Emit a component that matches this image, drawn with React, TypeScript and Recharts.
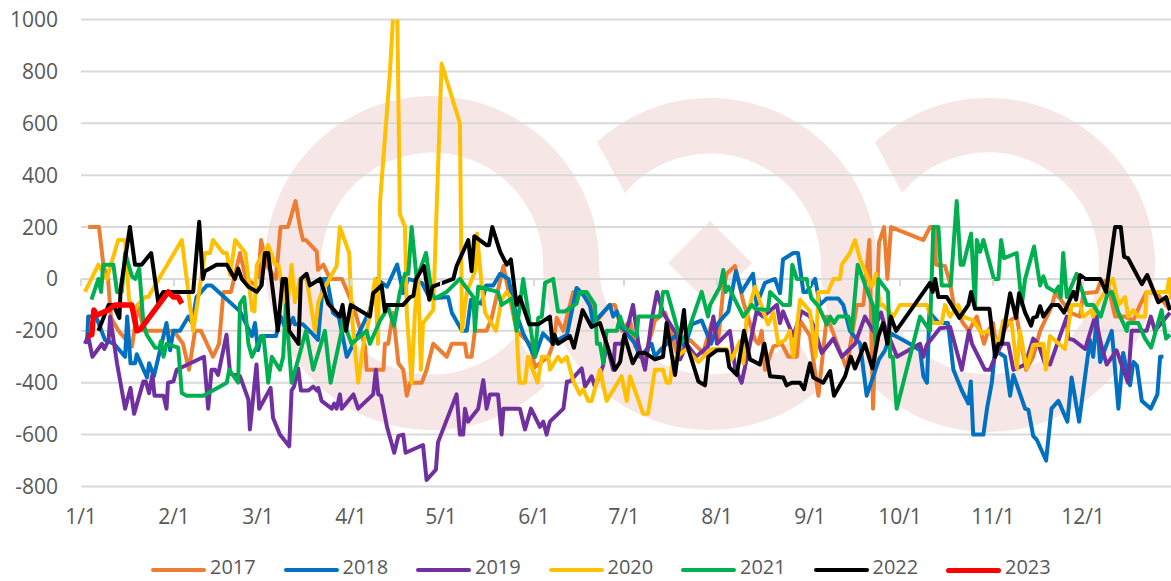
import React from "react";
import {
  LineChart,
  Line,
  XAxis,
  YAxis,
  CartesianGrid,
  Legend,
} from "recharts";

// day of year (0 = Jan 1) and value pairs
const s2017 = [[2.4,200],[6,200],[7.5,50],[9,0],[10,-150],[12.5,-200],[17,-260],[19,-100],[21,-200],[27,-200],[31,-200],[34,-250],[36,-350],[38,-200],[40,-200],[44,-300],[46,-250],[47.5,-50],[50,-50],[53,100],[55,0],[59,-30],[60,150],[62,50],[65,0],[66.5,200],[69,200],[71.5,300],[73,200],[74,150],[75,150],[78.6,105],[79,35],[80.8,55],[83,0],[87,0],[89,-55],[90.8,-105],[94.7,-260],[95.2,-350],[100.8,-350],[101.3,-250],[102.4,-250],[104,-130],[105.8,-325],[107.4,-350],[108.6,-450],[109.7,-400],[113.6,-400],[115.2,-350],[117.4,-250],[121.9,-300],[123.6,-250],[128,-250],[128.6,-300],[130.2,-300],[131.3,-200],[135.2,-200],[136.9,-150],[140.8,50],[145.2,-200],[149.7,-250],[151.3,-340],[155.8,-300],[157.4,-250],[158.6,-150],[160.8,-200],[164.1,-50],[166.3,-50],[169.7,-90],[171.3,-170],[176.3,-100],[178,-100],[180.2,-200],[183,-160],[184.7,-260],[188,-300],[191.3,-160],[194.7,-130],[198.6,-285],[203,-235],[207.4,-285],[210.2,-170],[212.4,-235],[214.1,-40],[215.2,20],[218,50],[220.8,-90],[224.7,-235],[225.8,-250],[226.9,-200],[228,-350],[230.8,-260],[233.6,-250],[235.8,-300],[238.6,-300],[239.7,-160],[243,-220],[245.8,-450],[248.6,-145],[250.8,-210],[255.2,-345],[258.6,-100],[260.8,-100],[262.8,150],[264,-500],[266,140],[267.7,200],[268.8,0],[270,200],[280.8,150],[283,200],[284.7,200],[285,55],[288,50],[289.7,-15],[291,-105],[294,-170],[296,-200],[298.6,-145],[301,-250],[302.4,-200],[304,-170],[305,-250],[309.7,-160],[311.9,-145],[313.6,-260],[315,-350],[317.4,-300],[319.7,-200],[323.6,-105],[324.7,-55],[326.3,-75],[329.7,-130],[333,-145],[334.1,-55],[338.6,-50],[339.7,-15],[341.9,-5],[344.7,-145],[348,-145],[350.8,-160],[353,-100],[355.2,-50],[358.6,-55],[363,-120]];
const s2018 = [[2,-250],[2.4,-145],[5,-145],[8,-235],[11,-250],[14.7,-300],[15.4,-145],[16.5,-325],[18,-325],[18.6,-290],[22,-380],[22.7,-325],[24.3,-375],[28.5,-170],[29.7,-275],[30.8,-200],[33,-200],[35.8,-145],[37,-170],[38.5,-70],[42,-25],[43.5,-25],[53,-125],[57,-220],[58,-170],[59,-275],[60,-220],[65,-220],[66.5,-145],[68.5,-200],[70.7,-150],[71.3,-175],[74,-175],[77,-210],[79,-235],[80.8,0],[82,0],[84,-130],[86,-150],[88.6,-300],[93,-200],[96.3,-120],[98.5,0],[102,-30],[105.4,55],[107.4,-55],[109,0],[113.6,-15],[116.3,-75],[122.4,-70],[123.6,-130],[127,-200],[128.6,-200],[130,-80],[133.5,-95],[135,-25],[137.4,-25],[139.7,20],[142.5,0],[144.7,-120],[147.4,-210],[151.3,-300],[154,-210],[157.5,-250],[159.7,-230],[162,-215],[165.2,-35],[167.4,-60],[169.7,-105],[170.8,-180],[172,-155],[176.3,-100],[177.4,-145],[178.6,-125],[180.2,-185],[184.7,-250],[186.3,-300],[190.2,-250],[191.3,-300],[193,-275],[198,-220],[201.3,-260],[203.6,-175],[206.9,-160],[210,-250],[212.4,-170],[215.8,-125],[218.3,30],[220.2,-50],[224,20],[225.2,-100],[228,-15],[231.3,0],[233,-55],[234,75],[237.4,100],[239,100],[240.8,-50],[241.9,-50],[244.7,0],[246.3,-100],[248.6,-75],[252.4,-75],[254.1,-100],[256.3,-200],[259.7,-250],[261.9,-450],[266,-310],[268,-275],[270,-210],[277,-255],[279.7,-275],[280.8,-375],[282,-400],[282.8,-130],[286,-170],[289,-170],[290.8,-350],[293.6,-430],[295.8,-480],[296.6,-395],[297.4,-600],[300.8,-600],[302,-500],[303.6,-400],[304.7,-275],[308,-300],[309.7,-450],[310.8,-370],[314.7,-500],[315.8,-505],[317.4,-605],[318.6,-620],[321.7,-700],[323.5,-500],[325.8,-470],[328.8,-550],[330.2,-380],[332.7,-550],[336.3,-235],[337.4,-300],[338.6,-145],[339.7,-320],[343.6,-200],[345.8,-500],[347.4,-285],[349.7,-410],[350.8,-320],[352,-335],[353.6,-470],[356.6,-500],[358.8,-445],[359.7,-300],[360.8,-300]];
const s2019 = [[1.3,-250],[2.4,-220],[3.8,-300],[7,-250],[7.8,-270],[9.2,-235],[9.7,-145],[12,-325],[14.7,-500],[16.5,-420],[17.7,-520],[20.8,-395],[21.6,-395],[22.7,-440],[23.8,-370],[24.5,-450],[27.5,-450],[28.5,-500],[29,-400],[30.8,-395],[31.9,-350],[41,-300],[42.4,-500],[43.5,-350],[44.7,-350],[45.7,-370],[48.5,-215],[49.7,-365],[53,-375],[55.8,-465],[56.3,-580],[58.5,-330],[59.4,-500],[63.2,-420],[64,-535],[66.3,-600],[69.4,-645],[70.2,-430],[71,-415],[72.4,-345],[73.3,-430],[75.8,-430],[77.4,-415],[78.6,-430],[79.1,-420],[80.2,-470],[83.6,-500],[84.4,-480],[85.2,-500],[86.3,-445],[86.9,-500],[90.8,-445],[92.4,-500],[97.4,-445],[98.3,-350],[99.1,-445],[100,-450],[102,-570],[104.4,-670],[105.8,-605],[107.4,-600],[108.2,-670],[114,-640],[115.2,-775],[118.3,-735],[119,-630],[125.2,-445],[126.3,-600],[127.4,-600],[128,-500],[129,-550],[132.4,-500],[134.1,-390],[135.2,-500],[136.3,-445],[139,-445],[140.2,-600],[140.8,-500],[146.3,-500],[148,-580],[150,-500],[153,-570],[154.1,-550],[155.2,-600],[156.3,-550],[160.8,-500],[162,-395],[163,-395],[166.9,-345],[168,-415],[170.2,-375],[171.3,-415],[174,-335],[175.2,-250],[177.4,-350],[178,-250],[180.2,-250],[181.9,-200],[184,-100],[185.8,-250],[188,-350],[190.2,-160],[192,-50],[194,-130],[198.6,-215],[199.7,-310],[201.9,-250],[205,-300],[209,-260],[210.8,-145],[212,-250],[216.3,-200],[218,-340],[220.2,-400],[223,-250],[225.2,-125],[227.4,-145],[232,-100],[233,-170],[234,-125],[237.4,-220],[240.2,-125],[243,-145],[244.7,-200],[246.9,-285],[250.8,-230],[253.6,-300],[258,-250],[261.3,-145],[264,-200],[266.7,-130],[268,-185],[272,-300],[279.7,-250],[280.8,-300],[281.9,-255],[286.3,-190],[289.7,-185],[293.6,-350],[296,-200],[297,-250],[301.3,-350],[303,-350],[304.7,-300],[307,-250],[309.1,-250],[310.8,-350],[314.7,-330],[317.4,-230],[319.1,-250],[321.3,-325],[323,-330],[328.6,-145],[329.1,-230],[330.8,-235],[334.7,-270],[338,-145],[340.2,-260],[341.9,-330],[345.2,-275],[349,-400],[350.2,-200],[355.2,-200],[356.6,-145],[358,-200],[363,-130]];
const s2020 = [[1.3,-50],[5.8,55],[8.6,0],[12.4,150],[14.7,150],[16,-80],[17.4,-120],[21.3,-70],[22.4,-70],[25.2,-15],[33.6,150],[37.4,-200],[41.3,100],[43,100],[44,150],[47.4,100],[48.6,100],[49.7,15],[51.4,150],[54.8,100],[57,-120],[57.8,-125],[58.6,55],[62.4,130],[64.7,55],[65.8,55],[68.6,-130],[70.2,55],[71.3,-90],[73,0],[75.2,0],[78,-200],[79.1,-90],[80.2,-55],[85.2,50],[86.3,200],[89.4,100],[90.2,-130],[92.4,-400],[94,-260],[95.8,-170],[98,0],[99,-250],[99.7,300],[103,800],[104.2,1050],[105.4,1050],[106.3,250],[108,200],[108.6,-130],[110.2,-400],[111.3,-130],[112.4,0],[113.3,-350],[114,-170],[117.4,-120],[120.2,830],[126.3,600],[127,-200],[128.6,-50],[131.5,35],[132,175],[133.6,-30],[134.7,-130],[138.3,-200],[140.2,-80],[141.9,-50],[143.6,-80],[145.2,-200],[146.1,-400],[148,-400],[149,-300],[152.2,-400],[153.6,-300],[155.8,-300],[156.3,-350],[159,-300],[160.2,-320],[161.9,-300],[164,-390],[166.3,-445],[167.4,-425],[169.1,-470],[170.2,-470],[173,-350],[175.2,-470],[180.2,-375],[181.9,-470],[183,-375],[187.4,-520],[189,-520],[191.3,-350],[194,-350],[195.2,-400],[196.3,-400],[197.4,-310],[201.9,-270],[205.8,-320],[210.2,-270],[215.2,-270],[216.9,-310],[219.7,-240],[220.8,-325],[221.9,-145],[224.7,-30],[227.4,-125],[229,-175],[230.8,-130],[232.4,-250],[234.7,-235],[236.3,-200],[237.4,-300],[239.7,-80],[243,-125],[244.9,-300],[245.8,-50],[249,-50],[250.8,0],[253,0],[253.6,55],[256.3,100],[258,150],[259.7,75],[263.6,-30],[265,20],[266.2,-100],[267.4,-100],[270.8,-145],[273,-100],[281.9,-100],[284,-170],[286.9,-170],[288,-100],[289.7,-145],[292.4,-100],[294,-145],[297.4,-160],[300.2,-210],[302.4,-200],[305.8,-250],[307.4,-160],[310.2,-170],[312,-345],[313,-200],[315.2,-345],[317.4,-255],[320.8,-250],[321.6,-350],[323,-220],[328,-270],[330.2,-100],[333,-100],[334.1,-145],[336.9,-120],[337.4,-145],[338.6,-100],[344,0],[345.8,-100],[348,-70],[349.1,-145],[350.8,-120],[352.4,-145],[354.7,-145],[355.2,-50],[362,-50],[362.7,0],[363.3,-80]];
const s2021 = [[3.5,-80],[5.8,0],[6.7,-50],[7.4,55],[10.8,55],[12,-50],[13.6,-50],[14.7,100],[17,10],[18.1,0],[19.4,40],[20.8,-170],[21.9,-215],[24.7,-265],[26.2,-265],[26.6,-240],[27.5,-300],[28.5,-250],[32.4,-265],[33.6,-440],[35.2,-450],[40.8,-450],[48.6,-400],[49.4,-350],[52.4,-400],[53,-95],[54.4,-70],[55.8,-250],[57,-300],[60.2,-220],[60.8,-220],[62,-350],[62.4,-400],[63.6,-300],[66.3,-350],[67.4,-300],[68.3,-100],[70.2,-400],[72.4,-310],[75,-200],[77.4,-350],[81.3,-200],[83.2,-400],[86.9,-200],[87.4,-130],[88.6,-200],[90.2,-250],[95.2,-200],[96.3,-250],[99.7,-160],[102.4,-110],[104.3,-180],[106.3,-50],[108,20],[109.1,20],[110.2,200],[111.9,0],[115,100],[116.9,-55],[118,-75],[121.9,-50],[126.3,0],[130.8,-70],[131.3,-200],[132.4,-30],[139,-50],[140.2,-100],[143.6,-75],[145.2,-200],[147.4,0],[151.3,-300],[152.4,-150],[153.6,-145],[154.7,-15],[157.4,0],[159,-125],[161.3,-125],[165.2,-95],[166.1,-50],[168.5,-50],[171.3,-100],[172,-250],[173,-250],[174.1,-325],[175.2,-200],[178.6,-200],[179.7,-145],[180.8,-185],[185.2,-220],[185.8,-145],[193,-145],[194,-50],[195.4,-50],[199,-200],[199.7,-250],[202.4,-200],[206.9,-50],[209,-145],[209.7,-100],[213,-30],[214.1,35],[214.9,-50],[215.8,-30],[220.8,-145],[223.6,-100],[224.7,-115],[229,-120],[229.7,-50],[234,-100],[236.3,-100],[237.1,55],[238.6,0],[241.9,0],[243.5,-75],[245.8,-105],[248.6,-175],[249.7,-145],[251,-170],[252.4,-145],[255.8,-145],[256.9,-200],[258.9,55],[261.9,-40],[264.1,-105],[265,-270],[265.8,0],[269,-50],[269.7,-300],[270.6,-300],[271.9,-500],[279.7,-145],[283,-200],[284.1,200],[285.8,200],[286.9,-25],[289.9,-25],[291.9,300],[293.2,55],[294.1,55],[296.7,175],[298,-105],[298.6,150],[299.7,105],[300.8,150],[304.3,0],[305.8,0],[306.7,150],[307.7,80],[311.9,100],[313.6,-100],[314.7,0],[317.7,125],[319.7,-25],[320.8,10],[321.9,-30],[324.7,-50],[325.8,-30],[326.6,-70],[327.4,100],[328.6,-70],[331.9,20],[335.2,-100],[337.4,-100],[339.9,-145],[342.1,-60],[343.6,-50],[345.8,-130],[348.6,-200],[349,-170],[352.4,-170],[354.7,-230],[356.7,-265],[360.2,-120],[361.7,-230],[363,-215]];
const s2022 = [[5.8,-200],[9.2,-100],[10.8,-100],[12.8,-150],[13.2,-40],[16.3,200],[18,55],[20.2,55],[23.4,100],[25.8,-95],[26.4,-70],[27.4,-50],[37.4,-50],[39.4,220],[40.6,0],[41.3,30],[45.2,55],[48.6,55],[51.3,0],[52.4,40],[53.6,0],[55.8,-30],[58.6,-50],[60.2,-25],[61.3,100],[62.4,100],[65.6,-200],[67.2,0],[68.3,0],[69.4,-200],[72.5,-250],[73.3,0],[75.2,20],[76.3,-25],[79.7,0],[82.4,-95],[86.3,-145],[87.2,-100],[88.3,-200],[89.9,-100],[96.3,-145],[97.4,-55],[100.2,-25],[101.3,-125],[101.9,-100],[104.1,-100],[107.4,-100],[109.7,-70],[110.8,-65],[111.7,0],[114.3,50],[116.1,-80],[117.2,-30],[124.1,0],[125.2,50],[129.1,150],[130.2,30],[131.1,165],[135.2,130],[136,130],[137.1,200],[139.7,105],[141.9,55],[143.3,75],[145.2,-100],[146.3,-70],[149.4,-175],[152.4,-175],[156.3,-145],[157.2,-250],[157.8,-215],[159,-250],[163,-220],[164.3,-265],[167.2,-120],[170.2,-185],[173,-170],[178,-350],[179.7,-320],[181.1,-215],[183.9,-325],[185.8,-285],[188,-285],[191.3,-310],[194,-300],[195.2,-170],[198,-370],[201,-120],[201.9,-250],[205.8,-395],[208,-410],[209.1,-300],[211.9,-275],[215.2,-275],[216.1,-340],[218.6,-370],[221,-200],[223,-310],[226.3,-330],[227.8,-250],[229.7,-375],[234.1,-380],[235.2,-410],[236.9,-400],[239.7,-400],[241,-425],[243,-325],[244.1,-380],[247.4,-400],[249.7,-355],[251,-450],[254.7,-375],[256.6,-300],[258,-345],[261.3,-250],[263.8,-345],[265.8,-220],[267.4,-170],[268.8,-250],[269.9,-145],[271.7,-200],[283,-15],[283.9,-50],[284.7,0],[285.8,-70],[288.6,-70],[292.8,-150],[295.8,-100],[296.7,-50],[298,-115],[302.8,-115],[304.7,-300],[305.8,-250],[306.9,-250],[309.7,-55],[311.7,-150],[312.7,-55],[314.7,-130],[316.7,-180],[317.4,-150],[318.6,-145],[319.7,-105],[320.8,-145],[323.6,-100],[325.8,-100],[327.7,-130],[330.8,-50],[331.7,-80],[333,15],[334.7,0],[339.7,0],[341.7,-50],[344.7,200],[346.6,200],[347.7,85],[349,80],[353.6,-20],[355.4,15],[359.1,-90],[361.7,-70],[363,-120]];
const s2023 = [[2.1,-220],[3.6,-215],[4.3,-120],[5.2,-140],[9.1,-120],[11.3,-100],[16.9,-100],[18.6,-200],[19.7,-195],[29.1,-50],[30.8,-70],[32.4,-70],[33.6,-95]];

const years = ["2017", "2018", "2019", "2020", "2021", "2022", "2023"];
const seriesValues = [s2017, s2018, s2019, s2020, s2021, s2022, s2023];
const colors = ["#ED7D31", "#0070C0", "#7030A0", "#FFC000", "#00B050", "#000000", "#FF0000"];

const monthDays = [0, 31, 59, 90, 120, 151, 181, 212, 243, 273, 304, 334];
const monthLabels = ["1/1", "2/1", "3/1", "4/1", "5/1", "6/1", "7/1", "8/1", "9/1", "10/1", "11/1", "12/1"];
const yTicks = [-800, -600, -400, -200, 0, 200, 400, 600, 800, 1000];

const FONT = "'Open Sans', sans-serif";
const TEXT = "#595959";
const GRID = "#D9D9D9";
const PINK = "#F6E6E6";

// axis crosses at 0, labels stay low: tick mark goes up at the zero line
const MonthTick = (props: any) => {
  const { x, y, index } = props;
  return (
    <g>
      <line x1={x} x2={x} y1={279} y2={286} stroke={GRID} strokeWidth={2} />
      <text x={x} y={y + 29} textAnchor="middle" fontFamily={FONT} fontSize={21} fill={TEXT}>
        {monthLabels[index]}
      </text>
    </g>
  );
};

const LegendRow = ({ payload }: any) => (
  <div style={{ position: "relative", height: 22 }}>
    {(payload || []).map((item: any, i: number) => (
      <div
        key={item.value}
        style={{
          position: "absolute",
          left: 151 + i * 132.5,
          top: 0,
          display: "flex",
          alignItems: "center",
          fontFamily: FONT,
          fontSize: 20,
          color: TEXT,
          lineHeight: "22px",
        }}
      >
        <span
          style={{
            display: "inline-block",
            position: "relative",
            top: 3,
            width: 55,
            height: item.value === "2023" ? 5 : 4,
            borderRadius: 3,
            marginRight: 4,
            background: item.color,
          }}
        />
        {item.value}
      </div>
    ))}
  </div>
);

// faded logo behind the plot
const Watermark = () => (
  <svg width={1171} height={581} style={{ position: "absolute", left: 0, top: 0 }}>
    <path
      fill={PINK}
      d="M545 386 A167 167 0 1 1 599 264 A111 111 0 0 0 795 335 L823 386 A167 167 0 0 1 543 264 A111 111 0 1 0 517 335 Z"
    />
    <path
      fill={PINK}
      d="M597 142 A167 167 0 0 1 877 264 A111 111 0 1 0 902 193 L875 142 A167 167 0 1 1 821 264 A111 111 0 0 0 625 193 Z"
    />
    <path fill={PINK} d="M710 221 L752 263 L710 305 L668 263 Z" />
  </svg>
);

export default function App() {
  return (
    <div
      style={{
        position: "absolute",
        left: 0,
        top: 0,
        width: 1171,
        height: 581,
        overflow: "hidden",
        background: "#fff",
      }}
    >
      <Watermark />
      <div style={{ position: "absolute", left: 0, top: 0 }}>
        <LineChart
          width={1180}
          height={581}
          margin={{ top: 19.5, right: 4, bottom: 0, left: 0 }}
        >
          <CartesianGrid vertical={false} stroke={GRID} strokeWidth={2} />
          <XAxis
            dataKey="day"
            type="number"
            domain={[0, 365]}
            ticks={monthDays}
            interval={0}
            height={94.5}
            tickLine={false}
            axisLine={false}
            tick={<MonthTick />}
            allowDataOverflow
          />
          <YAxis
            type="number"
            domain={[-800, 1000]}
            ticks={yTicks}
            interval={0}
            width={81}
            tickLine={false}
            axisLine={false}
            tickMargin={17}
            tick={{ fontFamily: FONT, fontSize: 21, fill: TEXT }}
            allowDataOverflow
          />
          {years.map((year, i) => (
            <Line
              key={year}
              name={year}
              data={seriesValues[i].map(([day, value]) => ({ day, value }))}
              dataKey="value"
              stroke={colors[i]}
              strokeWidth={year === "2023" ? 5.5 : 4}
              strokeLinejoin="round"
              dot={false}
              isAnimationActive={false}
            />
          ))}
          <Legend
            verticalAlign="middle"
            align="center"
            content={<LegendRow />}
            wrapperStyle={{ position: "absolute", left: 0, top: 556, width: 1171, height: 22 }}
          />
        </LineChart>
      </div>
    </div>
  );
}
